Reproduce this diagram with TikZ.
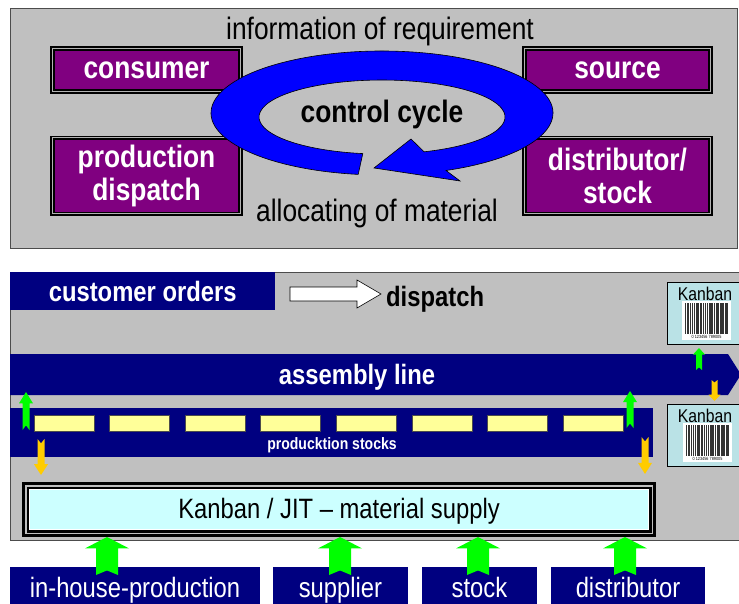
\documentclass[tikz,border=0pt]{standalone}
\usepackage{fontspec}
\setmainfont[FakeStretch=0.85]{Liberation Sans}

\definecolor{panelgray}{HTML}{C0C0C0}
\definecolor{boxpurple}{HTML}{800080}
\definecolor{linenavy}{HTML}{000080}
\definecolor{cycleblue}{HTML}{0000FF}
\definecolor{pullgreen}{HTML}{00FF00}
\definecolor{pushyellow}{HTML}{FFCC00}
\definecolor{stockyellow}{HTML}{FFFF99}
\definecolor{supplycyan}{HTML}{CCFFFF}
\definecolor{cardblue}{HTML}{BAE2E6}

\tikzset{
  panelframe/.style={fill=panelgray, draw=black!70, line width=0.8pt},
  purplebox/.style={draw=black, double=gray!60, double distance=1pt, line width=1.8pt,
    fill=boxpurple, text=white, align=center, inner sep=0pt,
    font=\fontsize{31}{33}\selectfont\bfseries},
  navybox/.style={fill=linenavy, text=white, inner sep=0pt, minimum height=38,
    text height=22, text depth=0pt, font=\fontsize{28}{30}\selectfont},
  plaintext/.style={inner sep=0pt, font=\fontsize{31}{33}\selectfont},
  boldtext/.style={inner sep=0pt, font=\fontsize{31}{33}\selectfont\bfseries},
  blockarrow/.pic={
    \fill[pic actions] (0,0) -- (1,0.3) -- (0.5,0.3) -- (0.5,1) -- (0,0.88)
      -- (-0.5,1) -- (-0.5,0.3) -- (-1,0.3) -- cycle;
  }
}

\begin{document}
\begin{tikzpicture}[x=1pt, y=1pt, yscale=-1]
  \useasboundingbox (0,0) rectangle (739,604);
  \clip (0,0) rectangle (739,604);

  % Upper panel
  \draw[panelframe] (10,8) rectangle (737,248);

  \node[purplebox, minimum width=188, minimum height=43] (consumer) at (146.5,70) {consumer};
  \node[purplebox, minimum width=186, minimum height=43] (source) at (617.5,70) {source};
  \node[purplebox, minimum width=188, minimum height=76] (production) at (146.5,176) {production\\dispatch};
  \node[purplebox, minimum width=186, minimum height=76] (distributor) at (617.5,176) {distributor/\\stock};

  % Cycle arrow
  \filldraw[fill=cycleblue, draw=black, line width=0.6pt]
    (358.2,174.4) arc[start angle=98, end angle=428, x radius=171, y radius=62]
    -- (460,181) -- (374,168) -- (411,139) -- (424.1,151.8)
    arc[start angle=430, end angle=99, x radius=123, y radius=37] -- cycle;

  \node[plaintext] (requirement) at (380,31) {information of requirement};
  \node[plaintext] (allocating) at (377,213) {allocating of material};
  \node[boldtext] (cycle) at (382,114) {control cycle};

  % Lower panel
  \draw[panelframe] (10,272) rectangle (760,540);

  \node[navybox, anchor=north west, minimum width=265, text height=20, font=\fontsize{28}{30}\selectfont\bfseries] (orders) at (10,272) {customer orders};

  \filldraw[fill=white, draw=black, line width=0.6pt]
    (290,287) -- (357,287) -- (357,280) -- (381,294) -- (357,308) -- (357,301) -- (290,301) -- cycle;
  \node[inner sep=0pt, anchor=west, font=\fontsize{28}{30}\selectfont\bfseries] (dispatch) at (386,299) {dispatch};

  % Kanban cards
  \foreach \cy/\bx [count=\i] in {282/682, 404/683} {
    \filldraw[fill=cardblue, draw=black, line width=0.8pt] (667,\cy) rectangle (750,{\cy+62});
    \node[inner sep=0pt, font=\fontsize{18.5}{20}\selectfont] (card\i) at (705,{\cy+11.5}) {Kanban};
    \fill[white] (\bx,{\cy+19}) rectangle ({\bx+49},{\cy+58});
    \foreach \ox/\bw in {0/0.8, 1.6/0.6, 3/1.4, 5.2/0.6, 6.6/1.8, 9.2/0.8, 10.8/0.6, 12.2/1.6,
        14.6/0.8, 16.2/1.2, 18.2/0.6, 19.6/1.8, 22.2/0.6, 23.6/0.8, 25/1.6, 27.4/0.6,
        28.8/1.2, 30.8/0.8, 32.4/1.8, 35/0.6, 36.4/1.2, 38.4/0.8, 40/0.6, 41.4/1.4}
      \fill[black!80] ({\bx+3+\ox},{\cy+21}) rectangle ({\bx+3+\ox+\bw},{\cy+52});
    \node[inner sep=0pt, font=\fontsize{4.5}{5}\selectfont] (code\i) at ({\bx+24.5},{\cy+55}) {0 123456 789005};
  }

  % Assembly line
  \fill[linenavy] (10,354) -- (728,354) -- (741,374.5) -- (728,395) -- (10,395) -- cycle;
  \node[inner sep=0pt, text=white, font=\fontsize{28}{30}\selectfont\bfseries] (assembly) at (357,377) {assembly line};

  % Production stocks
  \fill[linenavy] (10,408) rectangle (653,457);
  \foreach \i in {0,...,7}
    \filldraw[fill=stockyellow, draw=black!70, line width=0.8pt] ({34+75.6*\i},415) rectangle ({94+75.6*\i},431);
  \node[inner sep=0pt, text=white, font=\fontsize{16.5}{18}\selectfont\bfseries] (stocks) at (332,445) {producktion stocks};

  \pic[fill=pullgreen, xscale=7, yscale=-38] at (26,392) {blockarrow};
  \pic[fill=pullgreen, xscale=7, yscale=-37] at (630,391) {blockarrow};
  \pic[fill=pullgreen, xscale=6, yscale=-22] at (699,348) {blockarrow};
  \pic[fill=pushyellow, xscale=7, yscale=36] at (41,475) {blockarrow};
  \pic[fill=pushyellow, xscale=7, yscale=37] at (645,474) {blockarrow};
  \pic[fill=pushyellow, xscale=6, yscale=21] at (714.5,401) {blockarrow};

  % Material supply
  \node[draw=black, double=gray!50, double distance=1.5pt, line width=3pt, fill=supplycyan,
    minimum width=626.5, minimum height=47.5, text height=17, text depth=0pt,
    font=\fontsize{28}{30}\selectfont] (jit) at (339,509.5) {Kanban / JIT -- material supply};
  \draw[white, line width=0.8pt] (29.5,489.5) rectangle (648.5,529.5);

  \node[navybox, minimum width=250] (inhouse) at (135,586) {in-house-production};
  \node[navybox, minimum width=135] (supplier) at (340.5,586) {supplier};
  \node[navybox, minimum width=115] (stock) at (479.5,586) {stock};
  \node[navybox, minimum width=154] (distrib) at (628,586) {distributor};

  \foreach \ax in {107, 340, 478, 625}
    \pic[fill=pullgreen, xscale=22, yscale=-38] at (\ax,537) {blockarrow};
\end{tikzpicture}
\end{document}
